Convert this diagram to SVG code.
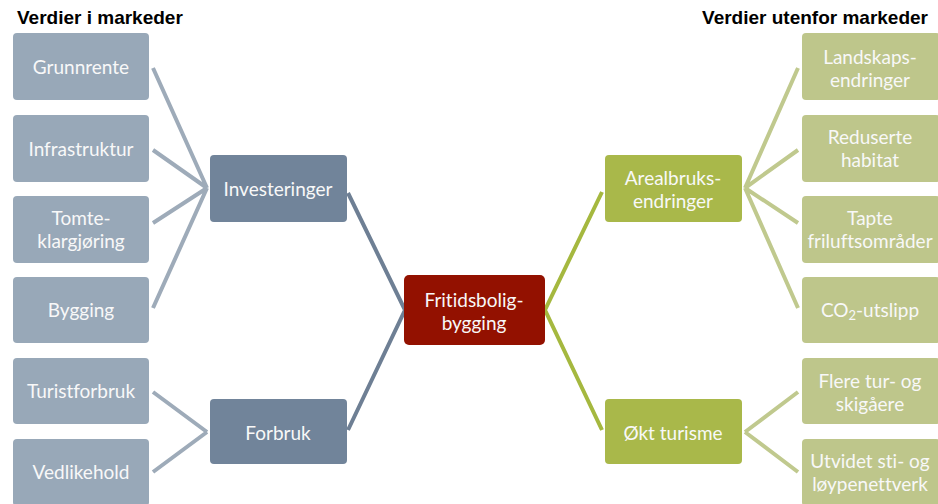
<svg xmlns="http://www.w3.org/2000/svg" width="938" height="504" viewBox="0 0 938 504">
<style>
.t{font-family:Lato,"Open Sans",sans-serif;font-size:19px;fill:#f8f8f8;text-anchor:middle;dominant-baseline:central;font-variant-ligatures:none}
.lf{fill:#98a8b8}
.lm{fill:#71849a}
.rf{fill:#bec68b}
.rm{fill:#a9b84a}
.c{fill:#931100}
.h{font-family:"Liberation Sans",Arial,sans-serif;font-weight:bold;font-size:19px;fill:#000}
.ll{stroke:#9eabb9;stroke-width:4;fill:none}
.lc{stroke:#6e7f94;stroke-width:4;fill:none}
.rl{stroke:#c0c98e;stroke-width:4;fill:none}
.rc{stroke:#a5b83f;stroke-width:4;fill:none}
</style>
<rect width="938" height="504" fill="#fff"/>
<text class="h" x="17" y="24">Verdier i markeder</text>
<text class="h" x="928" y="24" text-anchor="end">Verdier utenfor markeder</text>
<g id="connectors">
<path class="ll" d="M153,68 L207,188 M153,150 L207,188 M153,223 L207,188 M153,308 L207,188"/>
<path class="ll" d="M153,392 L207,432 M153,472 L207,432"/>
<path class="lc" d="M348,193 L405,310 L348,430"/>
<path class="rc" d="M602,192 L545,310 L602,430"/>
<path class="rl" d="M798,68 L745,188 M798,150 L745,188 M798,223 L745,188 M798,308 L745,188"/>
<path class="rl" d="M798,392 L745,432 M798,472 L745,432"/>
</g>
<g id="grunnrente"><rect class="lf" x="13" y="33" width="136" height="67" rx="4"/><text class="t" x="81" y="66">Grunnrente</text></g>
<g id="infrastruktur"><rect class="lf" x="13" y="115" width="136" height="67" rx="4"/><text class="t" x="81" y="148">Infrastruktur</text></g>
<g id="tomte"><rect class="lf" x="13" y="196" width="136" height="67" rx="4"/><text class="t" x="81" y="217">Tomte-</text><text class="t" x="81" y="240">klargjøring</text></g>
<g id="bygging"><rect class="lf" x="13" y="277" width="136" height="66" rx="4"/><text class="t" x="81" y="309">Bygging</text></g>
<g id="turistforbruk"><rect class="lf" x="13" y="358" width="136" height="66" rx="4"/><text class="t" x="81" y="390">Turistforbruk</text></g>
<g id="vedlikehold"><rect class="lf" x="13" y="439" width="136" height="67" rx="4"/><text class="t" x="81" y="471">Vedlikehold</text></g>
<g id="investeringer"><rect class="lm" x="210" y="155" width="137" height="67" rx="4"/><text class="t" x="278" y="188">Investeringer</text></g>
<g id="forbruk"><rect class="lm" x="210" y="399" width="137" height="65" rx="4"/><text class="t" x="278" y="432">Forbruk</text></g>
<g id="fritidsbolig"><rect class="c" x="404" y="275" width="141" height="70" rx="5"/><text class="t" x="474" y="299">Fritidsbolig-</text><text class="t" x="474" y="322">bygging</text></g>
<g id="arealbruk"><rect class="rm" x="605" y="155" width="137" height="67" rx="4"/><text class="t" x="673" y="177">Arealbruks-</text><text class="t" x="673" y="200">endringer</text></g>
<g id="okt"><rect class="rm" x="605" y="399" width="137" height="65" rx="4"/><text class="t" x="673" y="432">Økt turisme</text></g>
<g id="landskap"><rect class="rf" x="802" y="33" width="138" height="67" rx="4"/><text class="t" x="870" y="56">Landskaps-</text><text class="t" x="870" y="79">endringer</text></g>
<g id="habitat"><rect class="rf" x="802" y="115" width="138" height="67" rx="4"/><text class="t" x="870" y="136">Reduserte</text><text class="t" x="870" y="159">habitat</text></g>
<g id="frilufts"><rect class="rf" x="802" y="196" width="138" height="67" rx="4"/><text class="t" x="870" y="217">Tapte</text><text class="t" x="870" y="240">friluftsområder</text></g>
<g id="co2"><rect class="rf" x="802" y="277" width="138" height="66" rx="4"/><text class="t" x="870" y="309">CO<tspan font-size="13" dy="6">2</tspan><tspan dy="-6">-utslipp</tspan></text></g>
<g id="flere"><rect class="rf" x="802" y="358" width="138" height="66" rx="4"/><text class="t" x="870" y="380">Flere tur- og</text><text class="t" x="870" y="403">skigåere</text></g>
<g id="utvidet"><rect class="rf" x="802" y="439" width="138" height="67" rx="4"/><text class="t" x="870" y="460">Utvidet sti- og</text><text class="t" x="870" y="483">løypenettverk</text></g>
</svg>
